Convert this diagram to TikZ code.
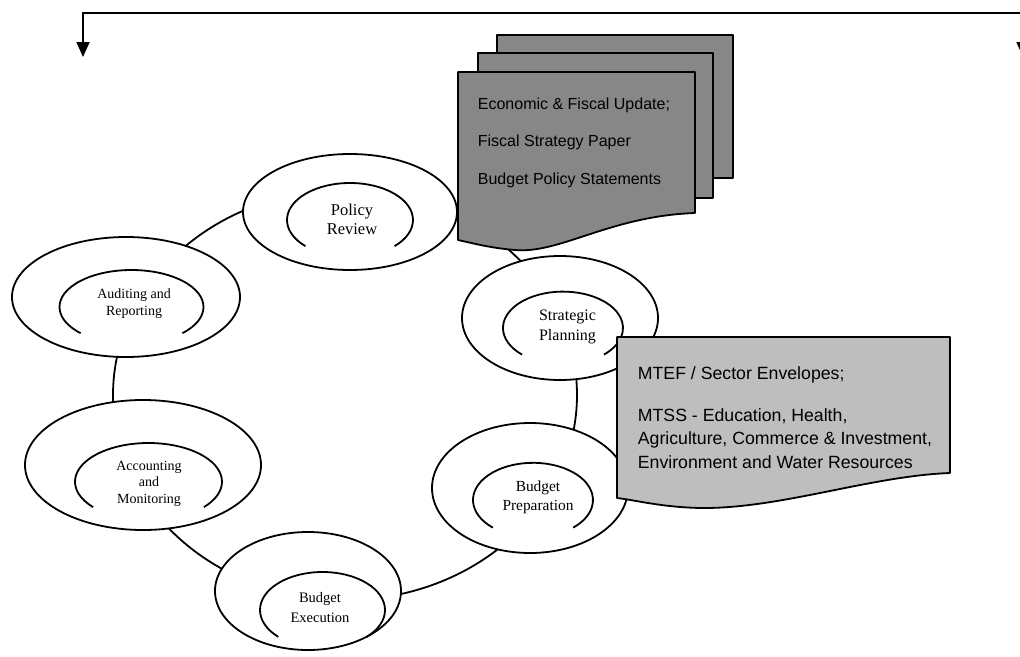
\documentclass[tikz,border=0pt]{standalone}
\usepackage{fontspec}
\setmainfont{Liberation Serif}
\newfontfamily\sansf{Liberation Sans}
\usetikzlibrary{arrows.meta,shapes.geometric}
\definecolor{docgray}{HTML}{878787}
\definecolor{boxgray}{HTML}{BEBEBE}
\begin{document}
\begin{tikzpicture}[x=1pt,y=-1pt,line width=1.8pt,
  outerell/.style={draw,fill=white,ellipse,inner sep=0pt,outer sep=0pt},
  lbl/.style={align=center,inner sep=0pt,font=\fontsize{14.5}{19}\selectfont},
  doc/.style={draw,fill=docgray,line join=round},
  doctxt/.style={anchor=west,inner sep=0pt,font=\sansf\fontsize{16}{18}\selectfont},
  boxtxt/.style={anchor=west,inner sep=0pt,align=left,font=\sansf\fontsize{17.7}{23.5}\selectfont},
  feedback/.style={>={Triangle[length=15pt,width=13pt]},<->,line join=miter}]
\clip (0,0) rectangle (1020,656);
\fill[white] (0,0) rectangle (1020,656);

% top feedback line with arrows
\coordinate (ls) at (83,57);
\coordinate (tl) at (83,13);
\coordinate (tr) at (1023,13);
\coordinate (rs) at (1023,57);
\draw[feedback] (ls) -- (tl) -- (tr) -- (rs);

% big cycle loop
\coordinate (cyc) at (345,395);
\draw (cyc) ellipse [x radius=232, y radius=205];

% outer ellipses
\node[outerell,minimum width=214pt,minimum height=116pt] (pr) at (350,212) {};
\node[outerell,minimum width=228pt,minimum height=120pt] (ar) at (126,297) {};
\node[outerell,minimum width=196pt,minimum height=124pt] (sp) at (560,318) {};
\node[outerell,minimum width=236pt,minimum height=130pt] (am) at (143,465) {};
\node[outerell,minimum width=196pt,minimum height=130pt] (bp) at (530,488) {};
\node[outerell,minimum width=186pt,minimum height=118pt] (be) at (308,591) {};

% inner open arcs
\draw (350,220) ++(135:63 and 37) arc[start angle=135,end angle=405,x radius=63,y radius=37];
\draw (131.5,307) ++(135:72 and 37) arc[start angle=135,end angle=405,x radius=72,y radius=37];
\draw (563,328) ++(133:60 and 36.4) arc[start angle=133,end angle=407,x radius=60,y radius=36.4];
\draw (148.5,481.7) ++(139:73.5 and 38.7) arc[start angle=139,end angle=401,x radius=73.5,y radius=38.7];
\draw (533,500) ++(132:60 and 37.2) arc[start angle=132,end angle=408,x radius=60,y radius=37.2];
\draw (322.5,610) ++(135:62.5 and 38) arc[start angle=135,end angle=405,x radius=62.5,y radius=38];

% labels
\node[lbl,font=\fontsize{16.5}{19}\selectfont] (prl) at (352,219.5) {Policy\\Review};
\node[lbl,font=\fontsize{14}{17}\selectfont] (arl) at (134,303.5) {Auditing and\\Reporting};
\node[lbl,font=\fontsize{16}{20}\selectfont] (spl) at (567.5,327) {Strategic\\Planning};
\node[lbl,font=\fontsize{14}{16.5}\selectfont] (aml) at (149,483.5) {Accounting\\and\\Monitoring};
\node[lbl,font=\fontsize{15.4}{19}\selectfont] (bpl) at (538,497.5) {Budget\\Preparation};
\node[lbl,font=\fontsize{14.5}{20}\selectfont] (bel) at (320,608) {Budget\\Execution};

% document stack
\draw[doc] (497,35) rectangle (733,178);
\draw[doc] (478,53) rectangle (713,198);
\draw[doc] (458,72) -- (695,72) -- (695,213)
  .. controls (610,216) and (560,254) .. (515,250)
  .. controls (490,248) and (472,243) .. (458,240) -- cycle;
\node[doctxt] (d1) at (477,105) {Economic \& Fiscal Update;};
\node[doctxt] (d2) at (477,142) {Fiscal Strategy Paper};
\node[doctxt] (d3) at (477,180) {Budget Policy Statements};

% MTEF box
\draw[draw,fill=boxgray,line join=round] (617,337) -- (950,337) -- (950,473)
  .. controls (870,476) and (780,509) .. (700,508)
  .. controls (660,507) and (635,500) .. (617,498) -- cycle;
\node[boxtxt] (m1) at (637,375) {MTEF / Sector Envelopes;};
\node[boxtxt] (m2) at (637,438.5) {MTSS - Education, Health,\\Agriculture, Commerce \& Investment,\\Environment and Water Resources};
\end{tikzpicture}
\end{document}
